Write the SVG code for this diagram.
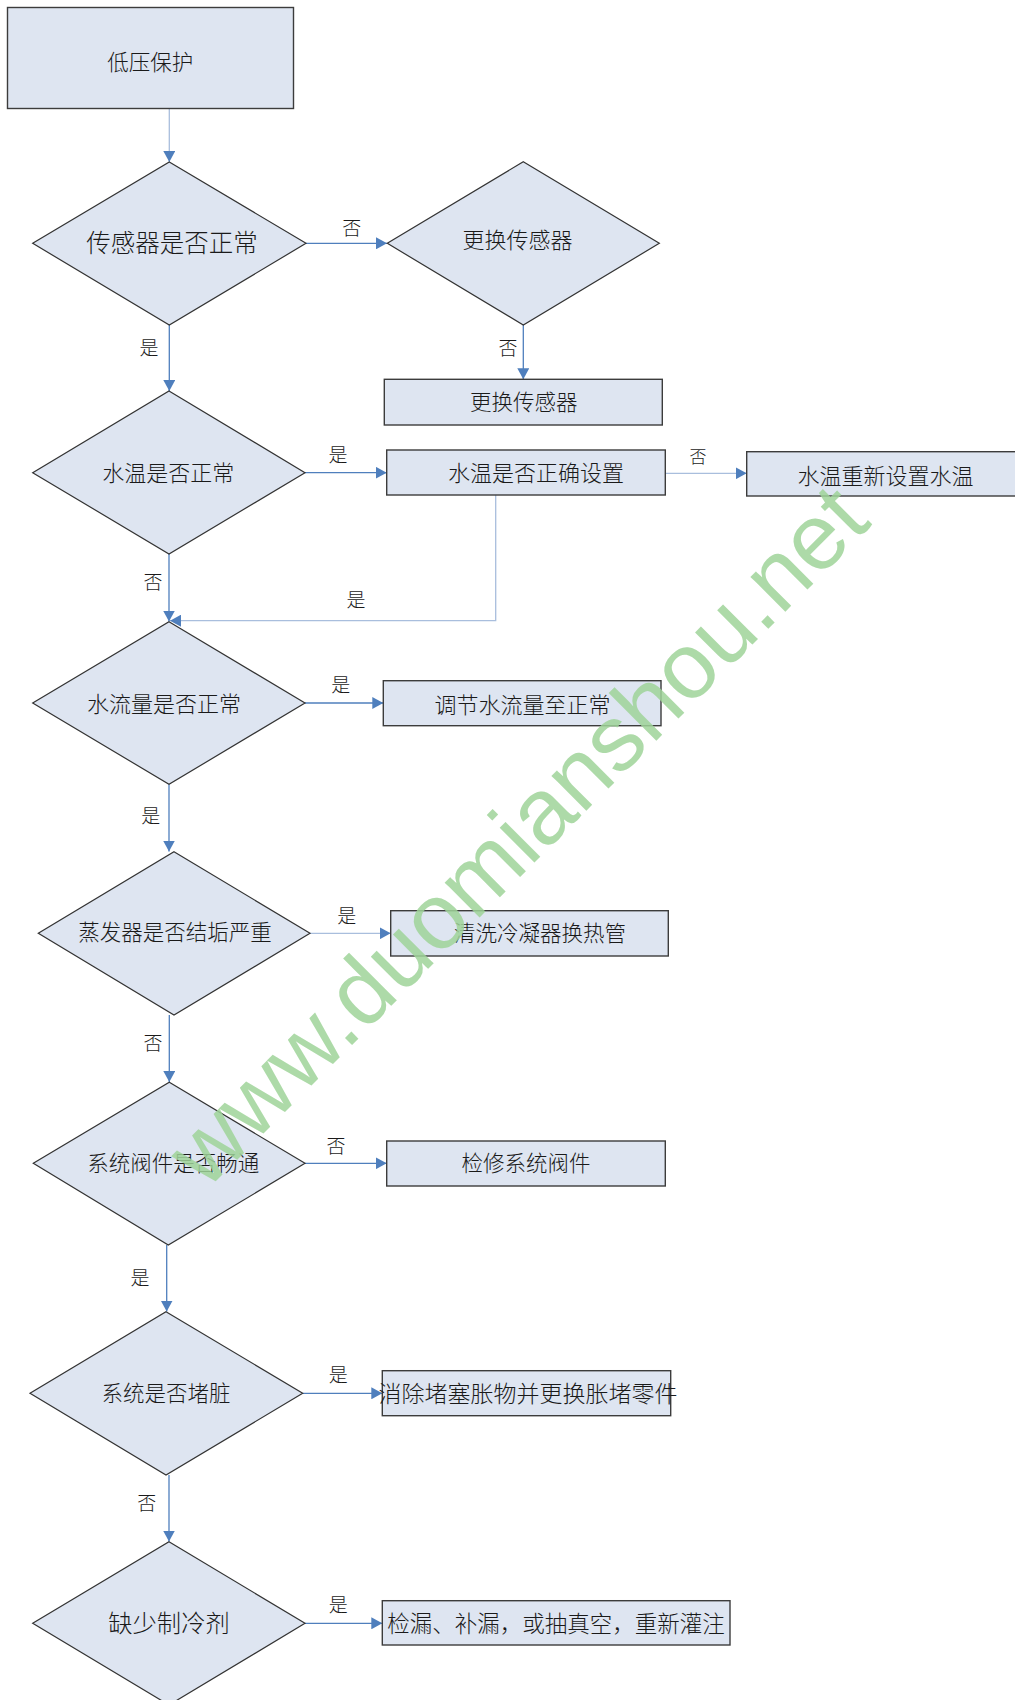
<svg xmlns="http://www.w3.org/2000/svg" width="1015" height="1700" viewBox="0 0 1015 1700">
<style>
.node{fill:#dee5f1;stroke:#3c3c3c;stroke-width:1.4}
.dia{fill:#dee5f1;stroke:#333;stroke-width:1.2}
.t{font-family:"Noto Sans CJK SC","Noto Sans CJK JP",sans-serif;font-weight:300;fill:#1a1a1a;text-anchor:middle;dominant-baseline:central}
.lb{font-family:"Noto Sans CJK SC","Noto Sans CJK JP",sans-serif;font-weight:300;fill:#1a1a1a;text-anchor:middle;dominant-baseline:central;font-size:19px}
.c{fill:none;stroke:#4f7fbd;stroke-width:1.3;marker-end:url(#ah)}
.cl{fill:none;stroke:#a9bedd;stroke-width:1.3;marker-end:url(#ah)}
.wm{font-family:"Liberation Sans",Arial,sans-serif;font-size:93px;fill:#9fd399;fill-opacity:0.85}
</style>
<defs>
<marker id="ah" markerUnits="userSpaceOnUse" markerWidth="12" markerHeight="12" refX="11" refY="6" orient="auto">
<path d="M0,0 L11,6 L0,12 z" fill="#4f7fbd"/>
</marker>
</defs>
<rect width="1015" height="1700" fill="#ffffff"/>

<g id="connectors">
<path class="cl" d="M169.3,108.3 V162"/>
<path class="c" d="M306,243.3 H387"/>
<path class="c" d="M523.3,325 V379.3"/>
<path class="c" d="M169.3,325 V391"/>
<path class="c" d="M305,472.7 H386.7"/>
<path class="cl" d="M665.3,473.3 H746.7"/>
<path class="c" d="M169,554 V621.5"/>
<path class="cl" d="M495.7,495 V620.7 H170"/>
<path class="c" d="M305,703 H383.3"/>
<path class="c" d="M169,784.3 V851.5"/>
<path class="cl" d="M310,933.3 H390.7"/>
<path class="c" d="M169.3,1015 V1082"/>
<path class="c" d="M305,1163.3 H386.7"/>
<path class="c" d="M166.7,1245 V1311.5"/>
<path class="c" d="M302.7,1393.3 H382.3"/>
<path class="c" d="M169,1475 V1541.5"/>
<path class="c" d="M305,1623.3 H382.3"/>
</g>

<g id="labels">
<text class="lb" x="351.7" y="226.5">否</text>
<text class="lb" x="149" y="346.5">是</text>
<text class="lb" x="508" y="346.5">否</text>
<text class="lb" x="338" y="453.5">是</text>
<text class="lb" x="698" y="455.5" style="font-size:17px">否</text>
<text class="lb" x="153" y="580.2">否</text>
<text class="lb" x="356" y="598.5">是</text>
<text class="lb" x="340.7" y="683.5">是</text>
<text class="lb" x="150.7" y="814">是</text>
<text class="lb" x="346.7" y="914.5">是</text>
<text class="lb" x="153" y="1041.5">否</text>
<text class="lb" x="336" y="1144.5">否</text>
<text class="lb" x="140" y="1276.8">是</text>
<text class="lb" x="338.3" y="1373.5">是</text>
<text class="lb" x="146.7" y="1501.8">否</text>
<text class="lb" x="338.3" y="1603.5">是</text>
</g>

<g id="n-start">
<rect class="node" x="7.5" y="7.5" width="286" height="101"/>
<text class="t" x="150.3" y="60.5" font-size="21.5">低压保护</text>
</g>
<g id="n-sensor">
<polygon class="dia" points="169.3,162 306,243.3 169.3,325 32.7,243.3"/>
<text class="t" x="172" y="241.8" font-size="24.5">传感器是否正常</text>
</g>
<g id="n-replace-d">
<polygon class="dia" points="523.3,161.7 659.3,243.3 523.3,325 387.3,243.3"/>
<text class="t" x="517.5" y="237.8" font-size="22">更换传感器</text>
</g>
<g id="n-replace-box">
<rect class="node" x="384.3" y="379.3" width="278" height="45.7"/>
<text class="t" x="523.8" y="400.2" font-size="21.5">更换传感器</text>
</g>
<g id="n-watertemp">
<polygon class="dia" points="169,391 305,472.7 169,554 32.7,472.7"/>
<text class="t" x="168.3" y="471.2" font-size="22">水温是否正常</text>
</g>
<g id="n-tempset">
<rect class="node" x="386.7" y="450" width="278.6" height="45"/>
<text class="t" x="536" y="471.2" font-size="22">水温是否正确设置</text>
</g>
<g id="n-reset">
<rect class="node" x="746.7" y="451.7" width="275" height="44.3"/>
<text class="t" x="885.5" y="473.5" font-size="22">水温重新设置水温</text>
</g>
<g id="n-flow">
<polygon class="dia" points="169,621.7 305,703 169,784.3 32.7,703"/>
<text class="t" x="164" y="701.5" font-size="22">水流量是否正常</text>
</g>
<g id="n-flowadj">
<rect class="node" x="383.3" y="680.7" width="277.7" height="45"/>
<text class="t" x="522.5" y="702.5" font-size="22">调节水流量至正常</text>
</g>
<g id="n-evap">
<polygon class="dia" points="174,851.7 310,933.3 174,1015 38.3,933.3"/>
<text class="t" x="175" y="930.2" font-size="21.5">蒸发器是否结垢严重</text>
</g>
<g id="n-clean">
<rect class="node" x="390.7" y="910.7" width="277.6" height="45.3"/>
<text class="t" x="540" y="931.8" font-size="21.5">清洗冷凝器换热管</text>
</g>
<g id="n-valve">
<polygon class="dia" points="169.3,1082.3 305,1163.3 168.3,1245 33.3,1163.3"/>
<text class="t" x="173.3" y="1161.8" font-size="21.5">系统阀件是否畅通</text>
</g>
<g id="n-valvefix">
<rect class="node" x="386.7" y="1141" width="278.6" height="45"/>
<text class="t" x="526" y="1161.8" font-size="21.5">检修系统阀件</text>
</g>
<g id="n-dirty">
<polygon class="dia" points="166,1311.7 302.7,1393.3 166,1475 30,1393.3"/>
<text class="t" x="166" y="1391.8" font-size="21.5">系统是否堵脏</text>
</g>
<g id="n-unclog">
<rect class="node" x="382.3" y="1370.7" width="288.4" height="45"/>
<text class="t" x="528" y="1391.8" font-size="23">消除堵塞胀物并更换胀堵零件</text>
</g>
<g id="n-refrig">
<polygon class="dia" points="169,1541.7 305,1623.3 169,1705 32.7,1623.3"/>
<text class="t" x="169" y="1621.8" font-size="24.3">缺少制冷剂</text>
</g>
<g id="n-leak">
<rect class="node" x="382.3" y="1600.7" width="347.7" height="44.3"/>
<text class="t" x="556" y="1621.8" font-size="22.5">检漏、补漏，或抽真空，重新灌注</text>
</g>

<text class="wm" transform="translate(206,1191) rotate(-45)" textLength="943" lengthAdjust="spacingAndGlyphs">www.duomianshou.net</text>
</svg>
